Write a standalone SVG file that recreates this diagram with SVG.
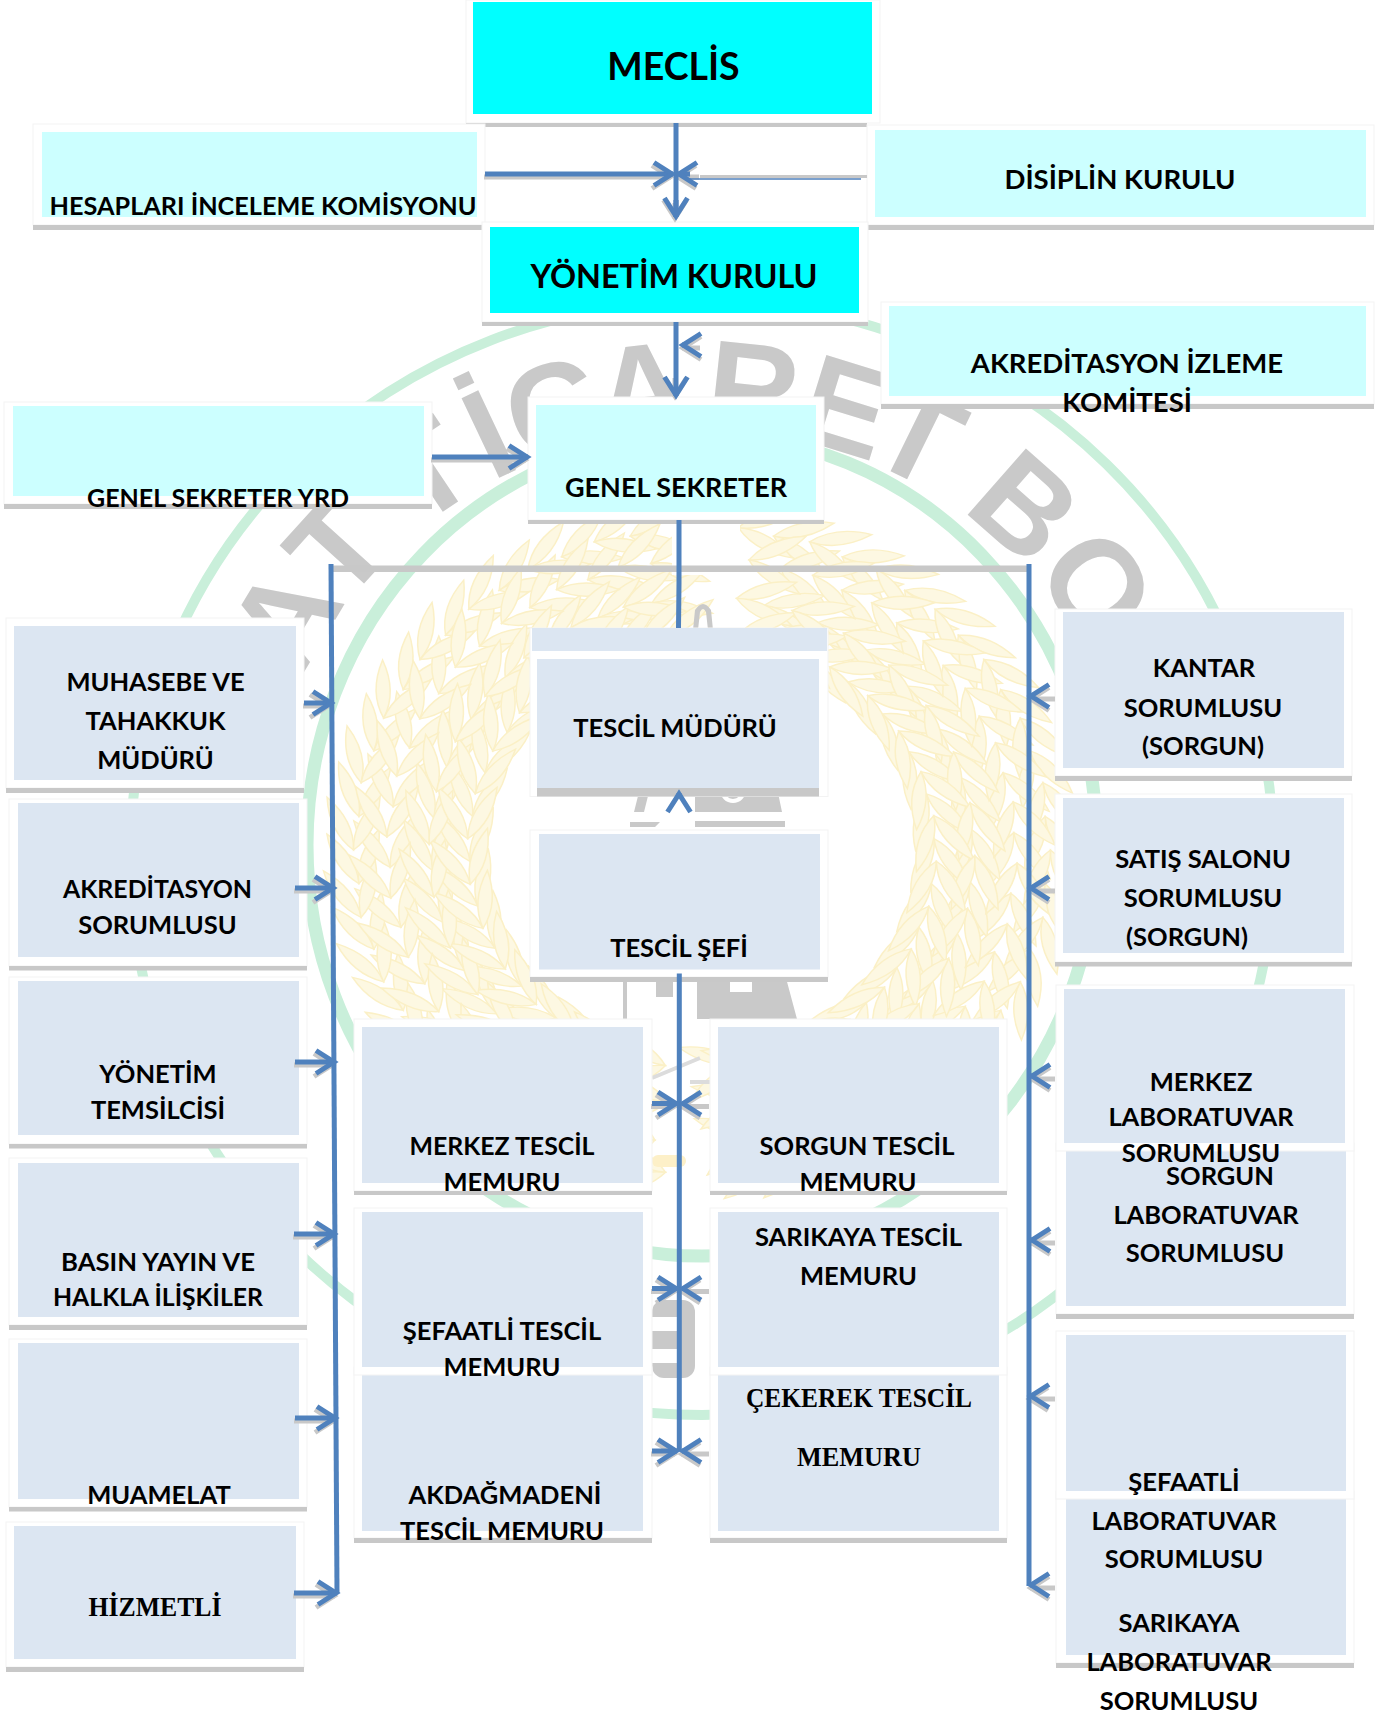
<svg xmlns="http://www.w3.org/2000/svg" width="1391" height="1715" viewBox="0 0 1391 1715">
<style>
.p{fill:#fff;stroke:#f3f3f3;stroke-width:1}.m{fill:#fff}.e{fill:#e4e4e4}.s{fill:#c8c8c8}.c{fill:#00ffff}.a{fill:#ccffff}.b{fill:#dce6f2}
text{font-family:"Lato","Open Sans",sans-serif;font-weight:700;font-size:25.5px;fill:#000;text-anchor:middle}
text.h{font-size:27.5px}
text.r{font-family:"Liberation Serif",serif;font-size:28px}
.ln{fill:none;stroke:#4f81bd;stroke-width:5}
.sh{fill:none;stroke:#c8c8c8;stroke-width:5}
.ar{marker-end:url(#hb)}
.as{marker-end:url(#hg)}
.lf{fill:#fdf8e2;stroke:#fbf0c6;stroke-width:1.500}
.wg{fill:none;stroke:#c9efda}
.wl{fill:#c9c9c9}
text.wt{font-family:"Liberation Sans",sans-serif;font-size:128px;letter-spacing:4px;fill:#c9c9c9;text-anchor:start}
</style>
<defs>
<marker id="hb" markerUnits="userSpaceOnUse" markerWidth="30" markerHeight="34" refX="24" refY="17" viewBox="0 0 30 34" orient="auto"><path d="M5,5.500 L23,17 L5,28.500" fill="none" stroke="#4f81bd" stroke-width="5"/></marker>
<marker id="hg" markerUnits="userSpaceOnUse" markerWidth="30" markerHeight="34" refX="24" refY="17" viewBox="0 0 30 34" orient="auto"><path d="M5,5.500 L23,17 L5,28.500" fill="none" stroke="#c8c8c8" stroke-width="5"/></marker>
<path id="wmArc" d="M262,858 A440,428 0 0 1 1142,858"/>
<path id="leaf" d="M0,0 Q14,-28 0,-62 Q-14,-28 0,0Z"/>
<g id="sec">
<use href="#leaf" class="lf" transform="translate(0,-345) rotate(65)"/>
<use href="#leaf" class="lf" transform="translate(0,-345) rotate(115)"/>
<use href="#leaf" class="lf" transform="translate(14,-312) rotate(60)"/>
<use href="#leaf" class="lf" transform="translate(14,-312) rotate(120)"/>
<use href="#leaf" class="lf" transform="translate(6,-270) rotate(68)"/>
<use href="#leaf" class="lf" transform="translate(6,-270) rotate(112)"/>
<use href="#leaf" class="lf" transform="translate(12,-232) rotate(62)"/>
<use href="#leaf" class="lf" transform="translate(12,-232) rotate(118)"/>
</g>
<g id="ring">
<use href="#sec" transform="rotate(12)"/><use href="#sec" transform="rotate(24)"/><use href="#sec" transform="rotate(36)"/><use href="#sec" transform="rotate(48)"/><use href="#sec" transform="rotate(60)"/><use href="#sec" transform="rotate(72)"/><use href="#sec" transform="rotate(84)"/><use href="#sec" transform="rotate(96)"/><use href="#sec" transform="rotate(108)"/><use href="#sec" transform="rotate(120)"/><use href="#sec" transform="rotate(132)"/><use href="#sec" transform="rotate(144)"/><use href="#sec" transform="rotate(156)"/><use href="#sec" transform="rotate(168)"/><use href="#sec" transform="rotate(192)"/><use href="#sec" transform="rotate(204)"/><use href="#sec" transform="rotate(216)"/><use href="#sec" transform="rotate(228)"/><use href="#sec" transform="rotate(240)"/><use href="#sec" transform="rotate(252)"/><use href="#sec" transform="rotate(264)"/><use href="#sec" transform="rotate(276)"/><use href="#sec" transform="rotate(288)"/><use href="#sec" transform="rotate(300)"/><use href="#sec" transform="rotate(312)"/><use href="#sec" transform="rotate(324)"/><use href="#sec" transform="rotate(336)"/><use href="#sec" transform="rotate(348)"/>
</g>
</defs>

<g id="watermark">
<ellipse class="wg" cx="702" cy="858" rx="572" ry="557" stroke-width="10"/>
<ellipse class="wg" cx="702" cy="845" rx="395" ry="411" stroke-width="13"/>
<g transform="translate(702,850) scale(1,.93)">
<use href="#ring"/><use href="#ring" transform="rotate(-6) scale(1.010)"/>
</g>
<rect x="672" y="515" width="68" height="60" fill="#fff"/>
<text class="wt"><textPath href="#wmArc" startOffset="182"><tspan dx="0 0 0 -15 5 -5 -14 6 -7 -15 0 -12 -3">AT TİCARET BO</tspan></textPath></text>
<path class="wl" d="M693,630 L695,610 Q703,598 711,610 L713,630 L708,630 L706,612 Q703,606 700,612 L698,630Z"/>
<path class="wl" d="M634,812 L640,788 L650,788 L644,812Z M695,788 L777,788 L782,812 L695,812Z M630,822 L660,822 L655,827 L630,827Z M695,821 L785,821 L785,827 L695,827Z"/>
<circle cx="733" cy="790" r="11" fill="none" stroke="#fff" stroke-width="4"/>
<rect class="wl" x="623" y="978" width="4" height="41"/><rect class="wl" x="656" y="978" width="17" height="19"/>
<path class="wl" d="M697,978 L730,978 L730,992 L752,992 L752,978 L786,978 L797,1019 L697,1019Z"/>
<path d="M652,1078 L700,1058 M690,1082 L710,1082" fill="none" stroke="#dcdcdc" stroke-width="4"/>
<rect x="652" y="1155" width="34" height="12" rx="6" fill="#fdf0c8"/>
<rect class="wl" x="652" y="1300" width="43" height="78" rx="12"/>
<rect class="m" x="650" y="1317" width="27" height="14"/><rect class="m" x="650" y="1349" width="27" height="14"/>
</g>

<g id="node-meclis"><rect class="p" x="466" y="0" width="414" height="123"/><rect class="s" x="466" y="123" width="401" height="4"/><rect class="c" x="473" y="2" width="399" height="112"/><text x="673.500" y="80" style="font-size:37.500px">MECLİS</text></g>
<g id="node-hesaplari"><rect class="p" x="33" y="124" width="452" height="101"/><rect class="s" x="33" y="225" width="452" height="5"/><rect class="a" x="42" y="132" width="435" height="85"/><text x="263" y="215" textLength="427" lengthAdjust="spacingAndGlyphs">HESAPLARI İNCELEME KOMİSYONU</text></g>
<g id="node-disiplin"><rect class="p" x="867" y="125" width="507" height="100"/><rect class="s" x="867" y="225" width="507" height="5"/><rect class="a" x="875" y="130" width="491" height="87"/><text class="h" x="1120" y="189">DİSİPLİN KURULU</text></g>
<g id="node-yonetim-kurulu"><rect class="p" x="482" y="222" width="386" height="100"/><rect class="s" x="482" y="322" width="386" height="4"/><rect class="c" x="490" y="227" width="369" height="86"/><text x="674" y="288" style="font-size:32.300px">YÖNETİM KURULU</text></g>
<g id="node-akreditasyon-izleme"><rect class="p" x="881" y="302" width="493" height="102"/><rect class="s" x="881" y="404" width="493" height="5"/><rect class="a" x="889" y="306" width="477" height="90"/><text class="h" x="1127" y="373">AKREDİTASYON İZLEME</text><text class="h" x="1127" y="412">KOMİTESİ</text></g>
<g id="node-genel-sekreter-yrd"><rect class="p" x="4" y="402" width="428" height="102"/><rect class="s" x="4" y="504" width="428" height="5"/><rect class="a" x="13" y="406" width="411" height="90"/><text x="218" y="506.500" textLength="262" lengthAdjust="spacingAndGlyphs">GENEL SEKRETER YRD</text></g>
<g id="node-genel-sekreter"><rect class="p" x="528" y="397" width="296" height="123"/><rect class="s" x="528" y="520" width="296" height="4"/><rect class="a" x="536" y="405" width="280" height="107"/><text x="676" y="497" style="font-size:27px">GENEL SEKRETER</text></g>

<g id="node-muhasebe"><rect class="p" x="6" y="618" width="298" height="170"/><rect class="s" x="6" y="788" width="298" height="5"/><rect class="b" x="14" y="626" width="282" height="154"/><text x="155.500" y="691">MUHASEBE VE</text><text x="155.500" y="729.500">TAHAKKUK</text><text x="155.500" y="768.500">MÜDÜRÜ</text></g>
<g id="node-akreditasyon-sorumlusu"><rect class="p" x="9" y="799" width="298" height="167"/><rect class="s" x="9" y="966" width="298" height="4.500"/><rect class="b" x="18" y="803" width="281" height="154"/><text x="157.500" y="898" textLength="189" lengthAdjust="spacingAndGlyphs">AKREDİTASYON</text><text x="157.500" y="933.500">SORUMLUSU</text></g>
<g id="node-yonetim-temsilcisi"><rect class="p" x="9" y="977" width="298" height="167"/><rect class="s" x="9" y="1144" width="298" height="4.500"/><rect class="b" x="18" y="981" width="281" height="154"/><text x="158" y="1083">YÖNETİM</text><text x="158" y="1119">TEMSİLCİSİ</text></g>
<g id="node-basin"><rect class="p" x="9" y="1158" width="298" height="167"/><rect class="s" x="9" y="1325" width="298" height="5"/><rect class="b" x="18" y="1163" width="281" height="154"/><text x="158" y="1271" textLength="194" lengthAdjust="spacingAndGlyphs">BASIN YAYIN VE</text><text x="158" y="1306" textLength="210" lengthAdjust="spacingAndGlyphs">HALKLA İLİŞKİLER</text></g>
<g id="node-muamelat"><rect class="p" x="9" y="1339" width="298" height="168"/><rect class="s" x="9" y="1507" width="298" height="4.500"/><rect class="b" x="18" y="1343" width="281" height="156"/><text x="159" y="1504">MUAMELAT</text></g>
<g id="node-hizmetli"><rect class="p" x="6" y="1522" width="298" height="145"/><rect class="s" x="6" y="1667" width="298" height="5"/><rect class="b" x="14" y="1526" width="282" height="133"/><text class="r" x="155" y="1616" textLength="133" lengthAdjust="spacingAndGlyphs">HİZMETLİ</text></g>

<g id="node-tescil-muduru"><rect class="p" x="530" y="628" width="298" height="168.500"/><rect class="b" x="532" y="628" width="295" height="23"/><rect class="m" x="531" y="651" width="296" height="8"/><rect class="s" x="537" y="788" width="282" height="8.500"/><rect class="b" x="537" y="659" width="282" height="129"/><text x="675" y="737">TESCİL MÜDÜRÜ</text></g>
<g id="node-tescil-sefi"><rect class="p" x="530" y="830" width="298" height="147"/><rect class="s" x="530" y="977" width="298" height="5"/><rect class="b" x="539" y="834" width="281" height="135.500"/><text x="679" y="957">TESCİL ŞEFİ</text></g>

<g id="node-akdagmadeni"><rect class="p" x="354" y="1367" width="298" height="171"/><rect class="s" x="354" y="1538" width="298" height="5"/><rect class="b" x="362" y="1375" width="281" height="156"/><text x="505" y="1504">AKDAĞMADENİ</text><text x="502" y="1540">TESCİL MEMURU</text></g>
<g id="node-sefaatli-tescil"><rect class="p" x="354" y="1208" width="298" height="167"/><rect class="b" x="362" y="1212" width="281" height="155"/><text x="502" y="1340">ŞEFAATLİ TESCİL</text><text x="502" y="1375.500">MEMURU</text></g>
<g id="node-merkez-tescil"><rect class="p" x="354" y="1019" width="298" height="172"/><rect class="s" x="354" y="1191" width="298" height="4"/><rect class="b" x="362" y="1027" width="281" height="156"/><text x="502" y="1155" textLength="185" lengthAdjust="spacingAndGlyphs">MERKEZ TESCİL</text><text x="502" y="1191">MEMURU</text></g>
<g id="node-cekerek"><rect class="p" x="710" y="1367" width="297" height="171"/><rect class="s" x="710" y="1538" width="297" height="5"/><rect class="b" x="718" y="1375" width="281" height="156"/><text class="r" x="859" y="1407" textLength="226" lengthAdjust="spacingAndGlyphs">ÇEKEREK TESCİL</text><text class="r" x="859" y="1466" textLength="124" lengthAdjust="spacingAndGlyphs">MEMURU</text></g>
<g id="node-sarikaya-tescil"><rect class="p" x="710" y="1208" width="297" height="167"/><rect class="b" x="718" y="1212" width="281" height="155"/><text x="858.500" y="1246">SARIKAYA TESCİL</text><text x="858.500" y="1284.500">MEMURU</text></g>
<g id="node-sorgun-tescil"><rect class="p" x="710" y="1019" width="297" height="172"/><rect class="s" x="710" y="1191" width="297" height="4"/><rect class="b" x="718" y="1027" width="281" height="156"/><text x="857" y="1155">SORGUN TESCİL</text><text x="858" y="1191">MEMURU</text></g>

<g id="node-kantar"><rect class="p" x="1055" y="609" width="297" height="167"/><rect class="s" x="1055" y="776" width="297" height="5"/><rect class="b" x="1063" y="612" width="281" height="156"/><text x="1204" y="677">KANTAR</text><text x="1203" y="716.500">SORUMLUSU</text><text x="1203" y="755">(SORGUN)</text></g>
<g id="node-satis"><rect class="p" x="1055" y="794" width="297" height="168"/><rect class="s" x="1055" y="962" width="297" height="4.500"/><rect class="b" x="1063" y="798" width="281" height="155"/><text x="1203" y="868">SATIŞ SALONU</text><text x="1203" y="907">SORUMLUSU</text><text x="1187" y="946">(SORGUN)</text></g>
<g id="node-sorgun-lab"><rect class="p" x="1056" y="1143" width="298" height="171"/><rect class="s" x="1056" y="1314" width="298" height="5"/><rect class="b" x="1066" y="1151" width="280" height="155"/><text x="1220" y="1185">SORGUN</text><text x="1206" y="1224">LABORATUVAR</text><text x="1205" y="1262">SORUMLUSU</text></g>
<g id="node-merkez-lab"><rect class="p" x="1056" y="985" width="298" height="166"/><rect class="b" x="1064" y="989" width="281" height="154"/><text x="1201" y="1091">MERKEZ</text><text x="1201" y="1126">LABORATUVAR</text><text x="1201" y="1162">SORUMLUSU</text></g>
<g id="node-sarikaya-lab"><rect class="p" x="1056" y="1491" width="298" height="172"/><rect class="s" x="1056" y="1663" width="298" height="5"/><rect class="b" x="1066" y="1499" width="280" height="156"/><text x="1179" y="1632">SARIKAYA</text><text x="1179" y="1671">LABORATUVAR</text><text x="1179" y="1710">SORUMLUSU</text></g>
<g id="node-sefaatli-lab"><rect class="p" x="1056" y="1331" width="298" height="168"/><rect class="b" x="1066" y="1335" width="280" height="156"/><text x="1184" y="1491">ŞEFAATLİ</text><text x="1184" y="1529.500">LABORATUVAR</text><text x="1184" y="1568">SORUMLUSU</text></g>

<g id="connectors">
<g transform="translate(-1,3)">
<path class="sh as" d="M485,174 H672"/>
<path class="sh as" d="M700,174 H678"/>
<path class="sh as" d="M676,200 V216"/>
<path class="sh as" d="M676,375 V394"/>
<path class="sh as" d="M701,345 H683"/>
<path class="sh as" d="M432,457 H527"/>
<path class="sh as" d="M304,703 H330"/>
<path class="sh as" d="M295,888 H333"/>
<path class="sh as" d="M295,1062 H334"/>
<path class="sh as" d="M294,1234 H334"/>
<path class="sh as" d="M295,1418 H335"/>
<path class="sh as" d="M294,1593 H336"/>
<path class="sh as" d="M1056,696 H1031"/>
<path class="sh as" d="M1056,888 H1031"/>
<path class="sh as" d="M1056,1076 H1032"/>
<path class="sh as" d="M1056,1240 H1032"/>
<path class="sh as" d="M1056,1396 H1030"/>
<path class="sh as" d="M1056,1585 H1031"/>
<path class="sh as" d="M652,1103.500 H676"/><path class="sh as" d="M710,1103.500 H682"/>
<path class="sh as" d="M652,1288.500 H676"/><path class="sh as" d="M710,1288.500 H682"/>
<path class="sh as" d="M652,1451 H676"/><path class="sh as" d="M710,1451 H682"/>
</g>
<rect class="s" x="331" y="565.500" width="698" height="6.500"/>
<rect class="s" x="700" y="175" width="167" height="3"/>
<path class="ln" d="M676,123 V217"/>
<path class="ln ar" d="M676,200 V217"/>
<path class="ln ar" d="M485,174 H673"/>
<path d="M861,179 H690" fill="none" stroke="#4f81bd" stroke-width="1.500"/>
<path class="ln ar" d="M690,174 H678"/>
<path class="ln ar" d="M676,322 V396"/>
<path class="ln ar" d="M685,345 H682"/>
<path class="ln ar" d="M432,457 H528"/>
<path class="ln" d="M679,520 V583 L678.500,628"/>
<path class="ln" d="M331,564 L337,1593"/>
<path class="ln" d="M1029,564 V1586"/>
<path class="ln" d="M679.300,973.500 V1451"/>
<path class="ln ar" d="M679,797 V793"/>
<path class="ln ar" d="M304,703 H332"/>
<path class="ln ar" d="M295,888 H334"/>
<path class="ln ar" d="M295,1062 H335"/>
<path class="ln ar" d="M294,1234 H335"/>
<path class="ln ar" d="M295,1418 H336"/>
<path class="ln ar" d="M294,1593 H337"/>
<path class="ln ar" d="M1035,696 H1030"/>
<path class="ln ar" d="M1035,888 H1030"/>
<path class="ln ar" d="M1035,1076 H1031"/>
<path class="ln ar" d="M1035,1240 H1031"/>
<path class="ln ar" d="M1035,1396 H1030"/>
<path class="ln ar" d="M1035,1585 H1030"/>
<path class="ln ar" d="M652,1103.500 H677"/><path class="ln ar" d="M686,1103.500 H682"/>
<path class="ln ar" d="M652,1288.500 H677"/><path class="ln ar" d="M686,1288.500 H682"/>
<path class="ln ar" d="M652,1451 H677"/><path class="ln ar" d="M686,1451 H682"/>
</g>
</svg>
